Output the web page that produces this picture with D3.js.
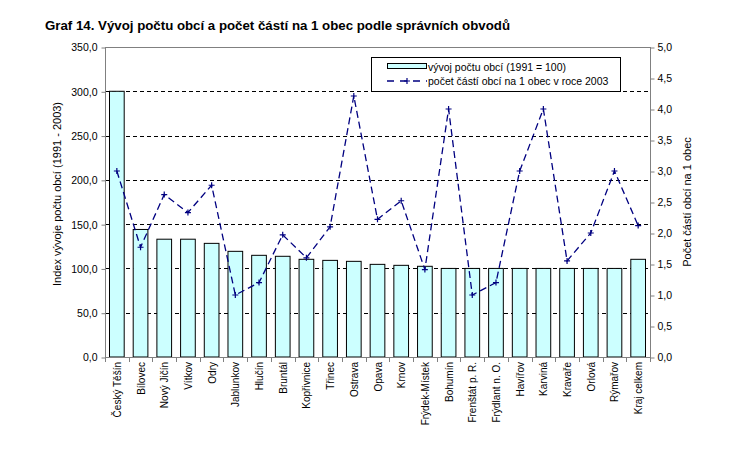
<!DOCTYPE html>
<html>
<head>
<meta charset="utf-8">
<script src="https://cdn.jsdelivr.net/npm/d3@7"></script>
<style>
  body { margin: 0; background: #fff; }
  svg text { font-family: Arial, "Liberation Sans", sans-serif; fill: #000; }
</style>
</head>
<body>
<div id="viz"></div>
<script>
// data
var obvody = ["Český Těšín", "Bílovec", "Nový Jičín", "Vítkov", "Odry", "Jablunkov",
  "Hlučín", "Bruntál", "Kopřivnice", "Třinec", "Ostrava", "Opava", "Krnov",
  "Frýdek-Místek", "Bohumín", "Frenštát p. R.", "Frýdlant n. O.", "Havířov",
  "Karviná", "Kravaře", "Orlová", "Rýmařov", "Kraj celkem"];
var indexObci = [300, 144, 133, 133, 128.3, 119.3, 114.8, 113.7, 110.3, 109.1, 108,
  104.6, 103.5, 102.4, 100, 100, 100, 100, 100, 100, 100, 100, 110.3];
var castiNaObec = [3.0, 1.77, 2.62, 2.33, 2.77, 1.0, 1.2, 1.97, 1.6, 2.1, 4.21, 2.22,
  2.52, 1.41, 4.0, 1.0, 1.2, 3.0, 4.0, 1.55, 2.0, 3.0, 2.12];
var leftTicks = [0, 50, 100, 150, 200, 250, 300, 350];
var rightTicks = [0, 0.5, 1, 1.5, 2, 2.5, 3, 3.5, 4, 4.5, 5];
var legendLabels = ["vývoj počtu obcí (1991 = 100)", "počet částí obcí na 1 obec v roce 2003"];

var W = 743, H = 449;
var x0 = 105, x1 = 650, yTop = 47, yBot = 357;

var svg = d3.select("#viz").append("svg")
    .attr("width", W)
    .attr("height", H);

var fmt = function(v) { return d3.format(".1f")(v).replace(".", ","); };

var x = d3.scaleBand()
    .domain(obvody)
    .range([x0, x1])
    .paddingInner(0.38)
    .paddingOuter(0.19);

var yL = d3.scaleLinear().domain([0, 350]).range([yBot, yTop]);
var yR = d3.scaleLinear().domain([0, 5]).range([yBot, yTop]);

// title
svg.append("text")
    .attr("x", 45)
    .attr("y", 30)
    .attr("textLength", 465)
    .attr("lengthAdjust", "spacingAndGlyphs")
    .style("font-size", "13px")
    .style("font-weight", "bold")
    .text("Graf 14. Vývoj počtu obcí a počet částí na 1 obec podle správních obvodů");

// gridlines (left axis)
svg.append("g").selectAll("line")
    .data(leftTicks.filter(function(d) { return d > 0 && d < 350; }))
    .join("line")
    .attr("x1", x0).attr("x2", x1)
    .attr("y1", function(d) { return Math.round(yL(d)) + 0.5; })
    .attr("y2", function(d) { return Math.round(yL(d)) + 0.5; })
    .attr("stroke", "#000")
    .attr("stroke-dasharray", "4,3");

// bars
svg.append("g").selectAll("rect")
    .data(indexObci)
    .join("rect")
    .attr("x", function(d, i) { return x(obvody[i]); })
    .attr("y", function(d) { return yL(d); })
    .attr("width", x.bandwidth())
    .attr("height", function(d) { return yBot - yL(d); })
    .attr("fill", "#ccffff")
    .attr("stroke", "#000")
    .attr("stroke-width", 1);

// line
var cx = function(i) { return x(obvody[i]) + x.bandwidth() / 2; };
var line = d3.line()
    .x(function(d, i) { return cx(i); })
    .y(function(d) { return yR(d); });

svg.append("path")
    .datum(castiNaObec)
    .attr("d", line)
    .attr("fill", "none")
    .attr("stroke", "#000080")
    .attr("stroke-width", 1.3)
    .attr("stroke-dasharray", "7,4");

var plus = d3.symbol().type(d3.symbolCross).size(1);
var marks = svg.append("g").selectAll("path")
    .data(castiNaObec)
    .join("path")
    .attr("d", function(d, i) {
      var px = cx(i), py = yR(d);
      return "M" + (px - 3) + "," + py + "H" + (px + 3) + "M" + px + "," + (py - 3) + "V" + (py + 3);
    })
    .attr("stroke", "#000080")
    .attr("stroke-width", 1.2);

// frame / axes in grey
var frame = svg.append("g").attr("stroke", "#808080").attr("fill", "none");
frame.append("line").attr("x1", x0).attr("x2", x1).attr("y1", yTop + 0.5).attr("y2", yTop + 0.5);
frame.append("line").attr("x1", x0).attr("x2", x1).attr("y1", yBot + 0.5).attr("y2", yBot + 0.5);
frame.append("line").attr("x1", x0 + 0.5).attr("x2", x0 + 0.5).attr("y1", yTop).attr("y2", yBot + 1);
frame.append("line").attr("x1", x1 + 0.5).attr("x2", x1 + 0.5).attr("y1", yTop).attr("y2", yBot + 1);

// left axis
var axL = svg.append("g")
    .attr("transform", "translate(" + (x0 + 0.5) + ",0.5)")
    .call(d3.axisLeft(yL).tickValues(leftTicks).tickFormat(fmt).tickSize(4).tickPadding(4));
axL.select(".domain").remove();
axL.selectAll("line").attr("stroke", "#808080");
axL.selectAll("text").style("font-size", "10.5px").style("font-family", "Arial, 'Liberation Sans', sans-serif");

// right axis
var axR = svg.append("g")
    .attr("transform", "translate(" + (x1 + 0.5) + ",0.5)")
    .call(d3.axisRight(yR).tickValues(rightTicks).tickFormat(fmt).tickSize(4).tickPadding(3));
axR.select(".domain").remove();
axR.selectAll("line").attr("stroke", "#808080");
axR.selectAll("text").style("font-size", "10.5px").style("font-family", "Arial, 'Liberation Sans', sans-serif");

// x axis ticks between categories
var step = x.step();
svg.append("g").selectAll("line")
    .data(d3.range(obvody.length + 1))
    .join("line")
    .attr("x1", function(i) { return Math.round(x0 + i * step) + 0.5; })
    .attr("x2", function(i) { return Math.round(x0 + i * step) + 0.5; })
    .attr("y1", yBot)
    .attr("y2", yBot + 5)
    .attr("stroke", "#808080");

// x labels
svg.append("g").selectAll("text")
    .data(obvody)
    .join("text")
    .attr("transform", function(d) {
      return "translate(" + (x(d) + x.bandwidth() / 2 + 4) + "," + (yBot + 5) + ")rotate(-90)";
    })
    .attr("text-anchor", "end")
    .style("font-size", "10px")
    .text(function(d) { return d; });

// axis titles
svg.append("text")
    .attr("transform", "translate(61,194)rotate(-90)")
    .attr("text-anchor", "middle")
    .style("font-size", "11px")
    .text("Index vývoje počtu obcí (1991 - 2003)");

svg.append("text")
    .attr("transform", "translate(691,202)rotate(-90)")
    .attr("text-anchor", "middle")
    .style("font-size", "11px")
    .text("Počet částí obcí na 1 obec");

// legend
var lg = svg.append("g");
lg.append("rect")
    .attr("x", 371.5).attr("y", 57.5)
    .attr("width", 249).attr("height", 34)
    .attr("fill", "#fff")
    .attr("stroke", "#000");
lg.append("rect")
    .attr("x", 387.5).attr("y", 63.5)
    .attr("width", 39).attr("height", 5)
    .attr("fill", "#ccffff")
    .attr("stroke", "#000");
lg.append("line")
    .attr("x1", 387).attr("x2", 427)
    .attr("y1", 81).attr("y2", 81)
    .attr("stroke", "#000080")
    .attr("stroke-width", 1.3)
    .attr("stroke-dasharray", "7,6");
lg.append("path")
    .attr("d", "M404,81H410M407,78V84")
    .attr("stroke", "#000080")
    .attr("stroke-width", 1.2);
lg.selectAll("text.lab")
    .data(legendLabels)
    .join("text")
    .attr("class", "lab")
    .attr("x", 428)
    .attr("y", function(d, i) { return 71 + i * 13.5; })
    .style("font-size", "10.5px")
    .text(function(d) { return d; });
</script>
</body>
</html>
